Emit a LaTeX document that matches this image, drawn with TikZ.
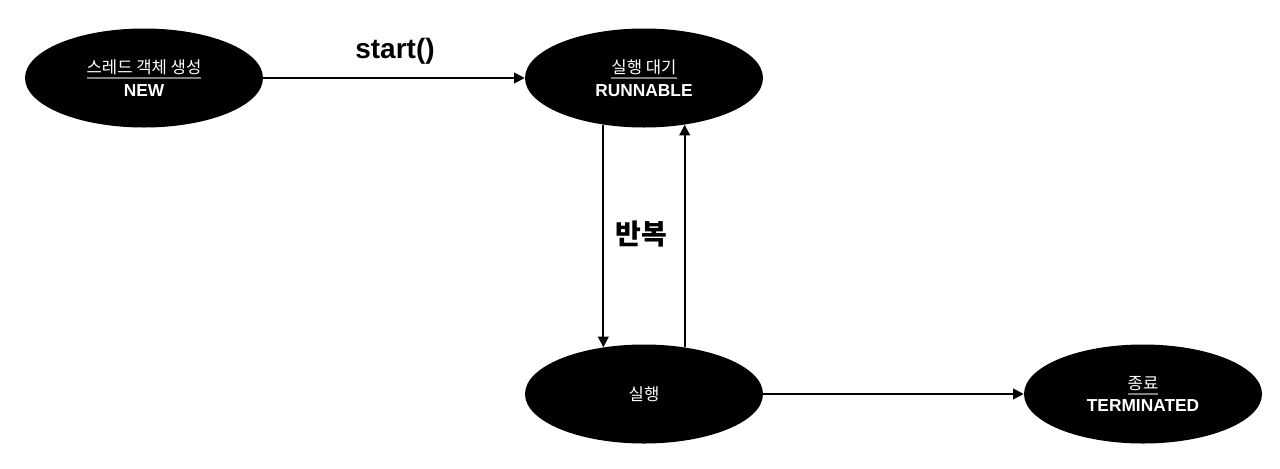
\documentclass[tikz,border=0pt]{standalone}
\usepackage{fontspec}
\setmainfont{Liberation Sans}
\newfontfamily\kofont{Noto Sans CJK KR}
\usepackage{xcolor}
\usetikzlibrary{shapes.geometric, arrows.meta}
\tikzset{
  state/.style={ellipse, fill=black, text=white, minimum width=178.5pt, minimum height=74.25pt,
    inner sep=0pt, align=center, font=\fontsize{13}{12.75}\selectfont\bfseries},
  flow/.style={-{Triangle[length=8pt, width=8pt]}, line width=1.4pt},
}
\newcommand{\kotitle}[1]{%
  \setbox0=\hbox{\kofont\mdseries\fontsize{12.5}{14}\selectfont #1}%
  \vbox{\offinterlineskip\copy0\kern1.8pt\hbox{\color{gray}\rule{\wd0}{1.4pt}}}}
\newcommand{\kotext}[1]{{\kofont\mdseries\fontsize{12.5}{14}\selectfont #1}}

\begin{document}
\begin{tikzpicture}[x=0.75pt, y=-0.75pt]
    \useasboundingbox (0,0) rectangle (1280,468);
    \node[state] (new) at (144,78) {\kotitle{스레드 객체 생성}\\NEW};
    \node[state] (run) at (644,78) {\kotitle{실행 대기}\\RUNNABLE};
    \node[state] (exec) at (644,394) {\kotext{실행}};
    \node[state] (term) at (1143,394) {\kotitle{종료}\\TERMINATED};
    \node[font=\bfseries\fontsize{21}{21}\selectfont] (startlbl) at (395,51) {start()};
    \draw[flow] (new) -- (run);
    \draw[flow] (run.229) -- (exec.131);
    \draw[flow] (exec.49) -- (run.311);
    \draw[flow] (exec) -- (term);
    \node[font=\kofont\bfseries\fontsize{21}{21}\selectfont] (loop) at (641,234) {반복};
\end{tikzpicture}
\end{document}
